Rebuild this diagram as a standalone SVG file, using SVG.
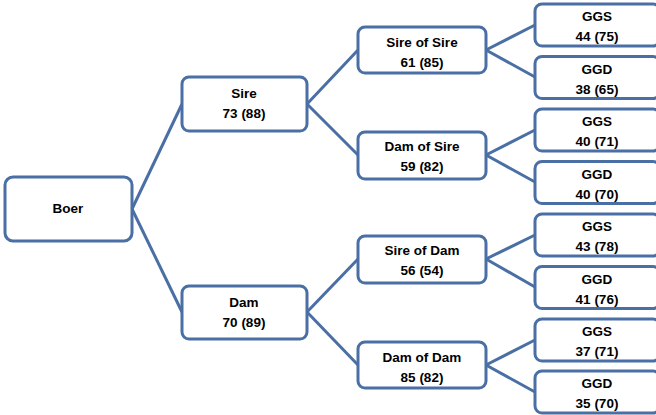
<svg xmlns="http://www.w3.org/2000/svg" width="656" height="415" viewBox="0 0 656 415">
<style>
.b{fill:#fff;stroke:#4a6fa5;stroke-width:3}
.t{font-family:"Liberation Sans",Arial,sans-serif;font-weight:bold;font-size:13.5px;fill:#000;text-anchor:middle}
.c line{stroke:#4a6fa5;stroke-width:3}
</style>
<rect width="656" height="415" fill="#fff"/>
<g class="c" id="connectors">
<line x1="132" y1="209" x2="182" y2="104"/>
<line x1="132" y1="209" x2="182" y2="312"/>
<line x1="307" y1="104" x2="358" y2="50"/>
<line x1="307" y1="104" x2="358" y2="155"/>
<line x1="307" y1="312" x2="358" y2="259"/>
<line x1="307" y1="312" x2="358" y2="365"/>
<line x1="486" y1="50" x2="535" y2="25"/>
<line x1="486" y1="50" x2="535" y2="77"/>
<line x1="486" y1="155" x2="535" y2="130"/>
<line x1="486" y1="155" x2="535" y2="182"/>
<line x1="486" y1="259" x2="535" y2="235"/>
<line x1="486" y1="259" x2="535" y2="287"/>
<line x1="486" y1="365" x2="535" y2="340"/>
<line x1="486" y1="365" x2="535" y2="392"/>
</g>
<g id="boer"><rect class="b" x="5" y="177" width="127" height="64" rx="8"/><text class="t" x="68" y="213">Boer</text></g>
<g id="sire"><rect class="b" x="182" y="77" width="125" height="54" rx="7"/><text class="t" x="244" y="98">Sire</text><text class="t" x="244" y="118">73 (88)</text></g>
<g id="dam"><rect class="b" x="182" y="286" width="125" height="53" rx="7"/><text class="t" x="244" y="307">Dam</text><text class="t" x="244" y="327">70 (89)</text></g>
<g id="sire-of-sire"><rect class="b" x="358" y="27" width="128" height="46" rx="7"/><text class="t" x="422" y="47">Sire of Sire</text><text class="t" x="422" y="67">61 (85)</text></g>
<g id="dam-of-sire"><rect class="b" x="358" y="132" width="128" height="47" rx="7"/><text class="t" x="422" y="151">Dam of Sire</text><text class="t" x="422" y="171">59 (82)</text></g>
<g id="sire-of-dam"><rect class="b" x="358" y="236" width="128" height="47" rx="7"/><text class="t" x="422" y="255">Sire of Dam</text><text class="t" x="422" y="275">56 (54)</text></g>
<g id="dam-of-dam"><rect class="b" x="358" y="342" width="128" height="46" rx="7"/><text class="t" x="422" y="362">Dam of Dam</text><text class="t" x="422" y="382">85 (82)</text></g>
<g id="ggs1"><rect class="b" x="535" y="4" width="125" height="42" rx="7"/><text class="t" x="597" y="21">GGS</text><text class="t" x="597" y="41">44 (75)</text></g>
<g id="ggd1"><rect class="b" x="535" y="56.5" width="125" height="42" rx="7"/><text class="t" x="597" y="73.5">GGD</text><text class="t" x="597" y="93.5">38 (65)</text></g>
<g id="ggs2"><rect class="b" x="535" y="109" width="125" height="42" rx="7"/><text class="t" x="597" y="126">GGS</text><text class="t" x="597" y="146">40 (71)</text></g>
<g id="ggd2"><rect class="b" x="535" y="161.5" width="125" height="42" rx="7"/><text class="t" x="597" y="178.5">GGD</text><text class="t" x="597" y="198.5">40 (70)</text></g>
<g id="ggs3"><rect class="b" x="535" y="214" width="125" height="42" rx="7"/><text class="t" x="597" y="231">GGS</text><text class="t" x="597" y="251">43 (78)</text></g>
<g id="ggd3"><rect class="b" x="535" y="266.5" width="125" height="42" rx="7"/><text class="t" x="597" y="283.5">GGD</text><text class="t" x="597" y="303.5">41 (76)</text></g>
<g id="ggs4"><rect class="b" x="535" y="319" width="125" height="42" rx="7"/><text class="t" x="597" y="336">GGS</text><text class="t" x="597" y="356">37 (71)</text></g>
<g id="ggd4"><rect class="b" x="535" y="371" width="125" height="42" rx="7"/><text class="t" x="597" y="388">GGD</text><text class="t" x="597" y="408">35 (70)</text></g>
</svg>
